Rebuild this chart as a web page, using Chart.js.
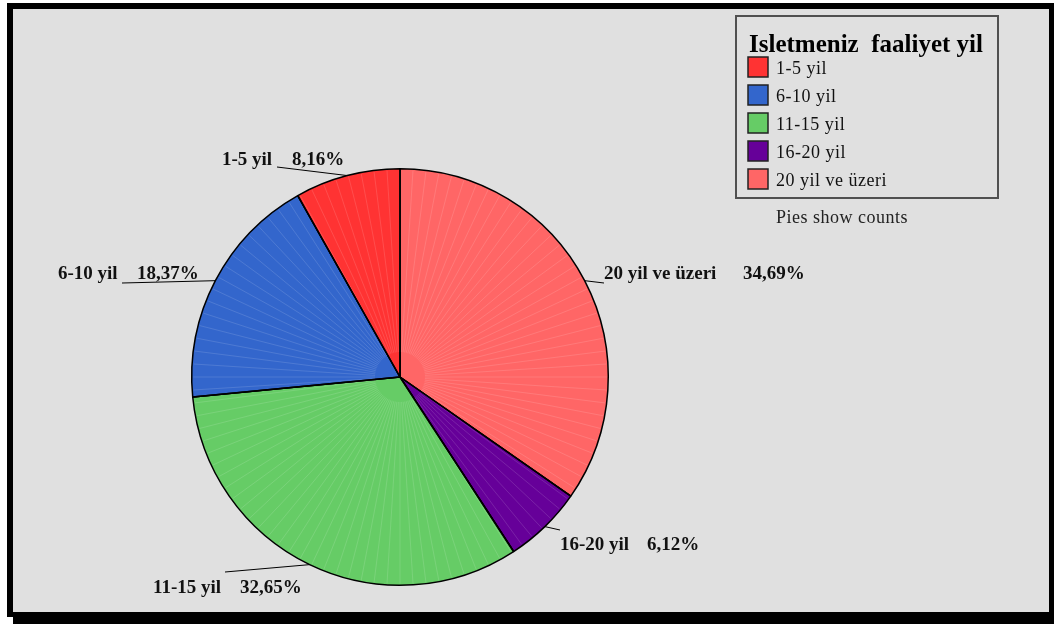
<!DOCTYPE html>
<html>
<head>
<meta charset="utf-8">
<script src="https://cdn.jsdelivr.net/npm/chart.js@4.4.1/dist/chart.umd.min.js"></script>
<style>
  html, body { margin: 0; padding: 0; background: #ffffff; }
  #wrap { width: 1054px; height: 624px; position: relative; }
</style>
</head>
<body>
<div id="wrap"><canvas id="c" width="1054" height="624"></canvas></div>
<script>
// ---- data (legend order) ----
const categories = ['1-5 yil', '6-10 yil', '11-15 yil', '16-20 yil', '20 yil ve üzeri'];
const counts = [4, 9, 16, 3, 17];
const colors = ['#FF3333', '#3366CC', '#66CC66', '#660099', '#FF6666'];
const legendTitle = 'Isletmeniz  faaliyet yil';
const footnote = 'Pies show counts';

// pie is drawn clockwise from 12 o'clock in reverse legend order
const pieOrder = [4, 3, 2, 1, 0];
const pieLabels = pieOrder.map(i => categories[i]);
const pieValues = pieOrder.map(i => counts[i]);
const pieColors = pieOrder.map(i => colors[i]);

// label layout (text placement) per category, legend order
const labelLayout = [
  { nx: 222, px: 292, y: 165, lx: 277, ly: 167 },
  { nx: 58,  px: 137, y: 279, lx: 122, ly: 283 },
  { nx: 153, px: 240, y: 593, lx: 225, ly: 572 },
  { nx: 560, px: 647, y: 550, lx: 560, ly: 530 },
  { nx: 604, px: 743, y: 279, lx: 604, ly: 283 }
];

const total = counts.reduce((a, b) => a + b, 0);
const pct = v => (v / total * 100).toFixed(2).replace('.', ',') + '%';

const framePlugin = {
  id: 'frame',
  beforeDraw(chart) {
    const ctx = chart.ctx;
    ctx.save();
    ctx.fillStyle = '#ffffff';
    ctx.fillRect(0, 0, 1054, 624);
    ctx.fillStyle = '#000000';
    ctx.fillRect(7, 3, 1047, 614);
    ctx.fillRect(13, 9, 1041, 615);
    ctx.fillStyle = '#E0E0E0';
    ctx.fillRect(13, 9, 1036, 603);
    ctx.restore();
  },
  afterDatasetsDraw(chart) {
    const ctx = chart.ctx;
    const meta = chart.getDatasetMeta(0);
    const a0 = meta.data[0];
    const cx = a0.x, cy = a0.y, r = a0.outerRadius - 1.5;
    ctx.save();
    ctx.strokeStyle = 'rgba(255,255,255,0.22)';
    ctx.lineWidth = 0.6;
    for (let d = 0; d < 360; d += 3.6) {
      const t = (d - 90) * Math.PI / 180;
      ctx.beginPath();
      ctx.moveTo(cx + Math.cos(t) * 25, cy + Math.sin(t) * 25);
      ctx.lineTo(cx + Math.cos(t) * r, cy + Math.sin(t) * r);
      ctx.stroke();
    }
    // re-stroke slice boundaries
    ctx.strokeStyle = '#000';
    ctx.lineWidth = 1.5;
    meta.data.forEach(arc => {
      ctx.beginPath();
      ctx.moveTo(cx, cy);
      ctx.lineTo(cx + Math.cos(arc.startAngle) * arc.outerRadius, cy + Math.sin(arc.startAngle) * arc.outerRadius);
      ctx.stroke();
    });
    ctx.restore();
  },
  afterDraw(chart) {
    const ctx = chart.ctx;
    const meta = chart.getDatasetMeta(0);
    ctx.save();
    // slice labels with leader lines
    ctx.font = 'bold 19px "Liberation Serif", "Times New Roman", serif';
    ctx.fillStyle = '#111';
    ctx.textBaseline = 'alphabetic';
    meta.data.forEach((arc, k) => {
      const ci = pieOrder[k];
      const L = labelLayout[ci];
      const mid = (arc.startAngle + arc.endAngle) / 2;
      const sx = arc.x + Math.cos(mid) * arc.outerRadius;
      const sy = arc.y + Math.sin(mid) * arc.outerRadius;
      ctx.strokeStyle = '#000';
      ctx.lineWidth = 1;
      ctx.beginPath();
      ctx.moveTo(sx, sy);
      ctx.lineTo(L.lx, L.ly);
      ctx.stroke();
      ctx.fillText(categories[ci], L.nx, L.y);
      ctx.fillText(pct(counts[ci]), L.px, L.y);
    });

    // legend box
    ctx.strokeStyle = '#505050';
    ctx.lineWidth = 2;
    ctx.strokeRect(736, 16, 262, 182);
    ctx.fillStyle = '#000';
    ctx.font = 'bold 25px "Liberation Serif", "Times New Roman", serif';
    ctx.fillText(legendTitle, 749, 52);
    ctx.font = '18px "Liberation Serif", "Times New Roman", serif';
    try { ctx.letterSpacing = '0.5px'; } catch (e) {}
    categories.forEach((c, i) => {
      const y = 57 + i * 28;
      ctx.fillStyle = colors[i];
      ctx.fillRect(748, y, 20, 20);
      ctx.strokeStyle = '#222';
      ctx.lineWidth = 1.5;
      ctx.strokeRect(748, y, 20, 20);
      ctx.fillStyle = '#111';
      ctx.fillText(c, 776, y + 17);
    });
    ctx.fillStyle = '#222';
    ctx.fillText(footnote, 776, 223);
    ctx.restore();
  }
};

new Chart(document.getElementById('c'), {
  type: 'pie',
  data: {
    labels: pieLabels,
    datasets: [{
      data: pieValues,
      backgroundColor: pieColors,
      borderColor: '#000',
      borderWidth: 1.5
    }]
  },
  options: {
    responsive: false,
    animation: false,
    layout: { padding: { left: 191, right: 445, top: 168, bottom: 38 } },
    plugins: { legend: { display: false }, tooltip: { enabled: false } }
  },
  plugins: [framePlugin]
});
</script>
</body>
</html>
